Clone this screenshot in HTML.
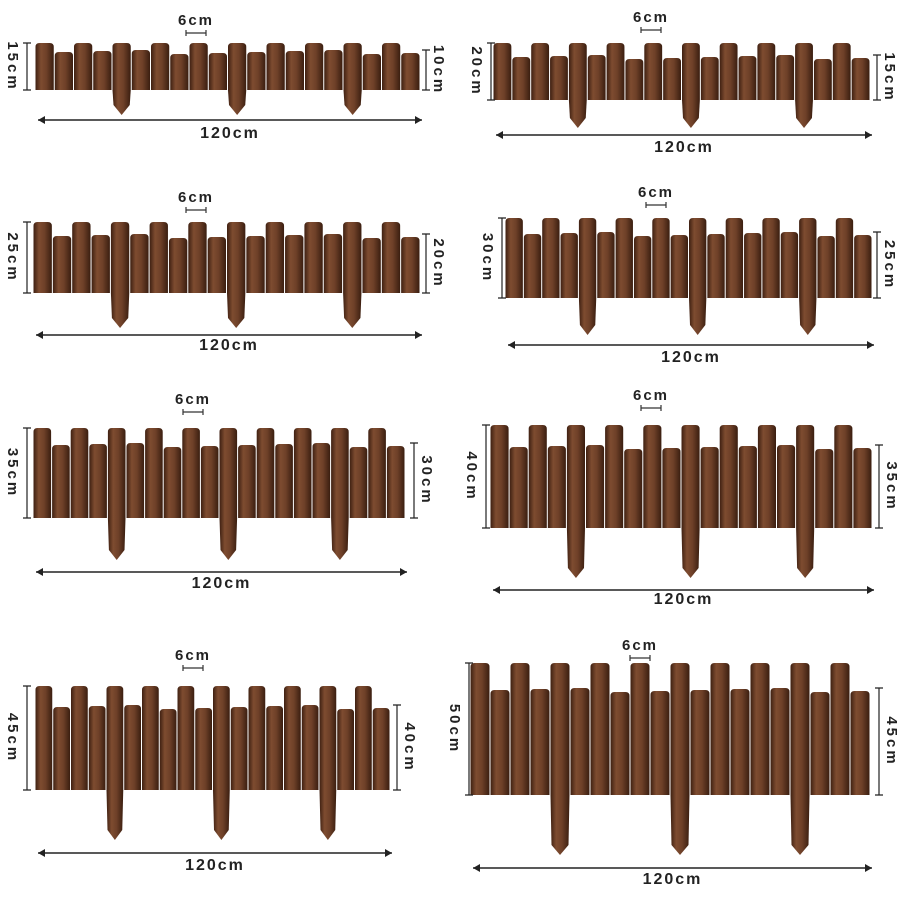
<!DOCTYPE html>
<html><head><meta charset="utf-8"><style>
html,body{margin:0;padding:0;background:#fff;}
svg{display:block}
text{font-family:"Liberation Sans",sans-serif;font-weight:bold;fill:#222;}
</style></head><body>
<svg id="s" width="900" height="900" viewBox="0 0 900 900" xmlns="http://www.w3.org/2000/svg">
<defs>
<linearGradient id="w" x1="0" x2="1" y1="0" y2="0">
<stop offset="0" stop-color="#3e2012"/><stop offset="0.3" stop-color="#7e4c30"/><stop offset="0.6" stop-color="#6e4028"/><stop offset="1" stop-color="#3a1e10"/>
</linearGradient>
</defs>
</svg>
<script>
var P=[
 {x0:35,x1:420,tt:43,ts:50,b:90,sb:115,st:[120,233,348],c6:196,y6:25,L:"15cm",lx:2,R:"10cm",rx:432,ay:120,ty:138},
 {x0:493,x1:870,tt:43,ts:55,b:100,sb:128,st:[578,690,803],c6:651,y6:22,L:"20cm",lx:466,R:"15cm",rx:883,ay:135,ty:152},
 {x0:33,x1:420,tt:222,ts:234,b:293,sb:328,st:[118,233,350],c6:196,y6:202,L:"25cm",lx:2,R:"20cm",rx:432,ay:335,ty:350},
 {x0:505,x1:872,tt:218,ts:232,b:298,sb:335,st:[588,693,806],c6:656,y6:197,L:"30cm",lx:477,R:"25cm",rx:883,ay:345,ty:362},
 {x0:33,x1:405,tt:428,ts:443,b:518,sb:560,st:[117,227,340],c6:193,y6:404,L:"35cm",lx:2,R:"30cm",rx:420,ay:572,ty:588},
 {x0:490,x1:872,tt:425,ts:445,b:528,sb:578,st:[577,690,805],c6:651,y6:400,L:"40cm",lx:461,R:"35cm",rx:885,ay:590,ty:604},
 {x0:35,x1:390,tt:686,ts:705,b:790,sb:840,st:[115,220,327],c6:193,y6:660,L:"45cm",lx:2,R:"40cm",rx:403,ay:853,ty:870},
 {x0:470,x1:870,tt:663,ts:688,b:795,sb:855,st:[560,678,797],c6:640,y6:650,L:"50cm",lx:444,R:"45cm",rx:885,ay:868,ty:884}
];
var h='';
P.forEach(function(p){
 var n=20,w=(p.x1-p.x0)/n;
 for(var i=0;i<n;i++){
  var x=p.x0+i*w+0.5,ww=w-1,cx=x+ww/2;
  var stake=p.st.some(function(s){return Math.abs(s-cx)<w/2+1;});
  var top=(stake||i%2==0)?p.tt:p.ts+((i*7)%5);
  var bot=p.b;
  var d='M'+x+','+(top+4)+' Q'+x+','+top+' '+(x+4)+','+top+' L'+(x+ww-4)+','+top+' Q'+(x+ww)+','+top+' '+(x+ww)+','+(top+4)+' L'+(x+ww)+','+bot;
  if(stake){d+=' L'+(x+ww-1)+','+(p.sb-10)+' L'+cx+','+p.sb+' L'+(x+1)+','+(p.sb-10);}
  d+=' L'+x+','+bot+' Z';
  h+='<path d="'+d+'" fill="url(#w)"/>';
 }
 h+='<text x="'+p.c6+'" y="'+p.y6+'" font-size="15" text-anchor="middle" letter-spacing="2">6cm</text>';
 h+='<path d="M'+(p.c6-10)+','+(p.y6+8)+' h20 M'+(p.c6-10)+','+(p.y6+5)+' v6 M'+(p.c6+10)+','+(p.y6+5)+' v6" stroke="#333" stroke-width="1.2" fill="none"/>';
 var lx=p.lx,ly=(p.tt+p.b)/2;
 h+='<text transform="translate('+(lx+6)+','+ly+') rotate(90)" font-size="15" text-anchor="middle" letter-spacing="3">'+p.L+'</text>';
 h+='<path d="M'+(lx+25)+','+p.tt+' V'+p.b+' M'+(lx+21)+','+p.tt+' h8 M'+(lx+21)+','+p.b+' h8" stroke="#222" stroke-width="1.2"/>';
 var rx=p.rx,ry=(p.ts+p.b)/2;
 h+='<path d="M'+(rx-6)+','+p.ts+' V'+p.b+' M'+(rx-10)+','+p.ts+' h8 M'+(rx-10)+','+p.b+' h8" stroke="#222" stroke-width="1.2"/>';
 h+='<text transform="translate('+(rx+2)+','+ry+') rotate(90)" font-size="15" text-anchor="middle" letter-spacing="3">'+p.R+'</text>';
 var a0=p.x0+3,a1=p.x1+2;
 h+='<path d="M'+a0+','+p.ay+' H'+a1+'" stroke="#222" stroke-width="1.5"/>';
 h+='<path d="M'+a0+','+p.ay+' l7,-4 v8 Z M'+a1+','+p.ay+' l-7,-4 v8 Z" fill="#222"/>';
 h+='<text x="'+((a0+a1)/2)+'" y="'+p.ty+'" font-size="16" text-anchor="middle" letter-spacing="2">120cm</text>';
});
document.getElementById('s').insertAdjacentHTML('beforeend',h);
</script>
</body></html>
